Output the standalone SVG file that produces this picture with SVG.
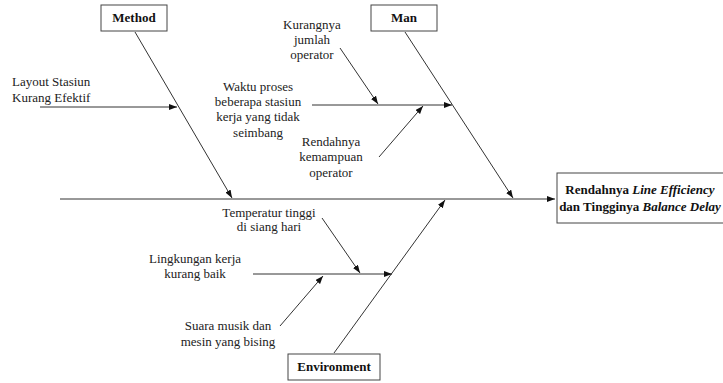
<svg xmlns="http://www.w3.org/2000/svg" width="723" height="383" viewBox="0 0 723 383">
<defs>
<marker id="ah" markerUnits="userSpaceOnUse" markerWidth="9" markerHeight="7" refX="8" refY="3" orient="auto">
<path d="M0,0 L8,3 L0,6 z" fill="#111"/>
</marker>
<style>
.ln{stroke:#333;stroke-width:1;fill:none;marker-end:url(#ah)}
.pl{stroke:#333;stroke-width:1;fill:none}
.bx{fill:#fff;stroke:#444;stroke-width:1}
.t{font-family:"Liberation Serif","Times New Roman",serif;font-size:13px;fill:#222;text-anchor:middle}
.tl{font-family:"Liberation Serif","Times New Roman",serif;font-size:13px;fill:#222}
.b{font-family:"Liberation Serif","Times New Roman",serif;font-size:13px;font-weight:bold;fill:#111;text-anchor:middle}
</style>
</defs>
<rect width="723" height="383" fill="#fff"/>
<g id="connectors">
<line class="ln" x1="60" y1="199" x2="555" y2="199"/>
<line class="ln" x1="135" y1="32" x2="232" y2="198"/>
<line class="ln" x1="405" y1="32" x2="513" y2="198"/>
<line class="ln" x1="334" y1="353" x2="445" y2="200"/>
<line class="ln" x1="40" y1="107" x2="177" y2="107"/>
<line class="ln" x1="312" y1="105" x2="452" y2="105"/>
<line class="ln" x1="340" y1="48" x2="378" y2="104"/>
<line class="ln" x1="379" y1="157" x2="423" y2="106"/>
<line class="ln" x1="253" y1="274" x2="392" y2="274"/>
<line class="ln" x1="322" y1="218" x2="360" y2="273"/>
<line class="ln" x1="280" y1="326" x2="323" y2="276"/>
</g>
<g id="method">
<rect class="bx" x="101" y="5" width="66" height="26"/>
<text class="b" x="134" y="22">Method</text>
</g>
<g id="man">
<rect class="bx" x="371" y="5" width="66" height="26"/>
<text class="b" x="404" y="22">Man</text>
</g>
<g id="environment">
<rect class="bx" x="288" y="354" width="92" height="26"/>
<text class="b" x="334" y="371">Environment</text>
</g>
<g id="effect">
<rect class="bx" x="557" y="173" width="180" height="50"/>
<text class="b" x="640" y="194">Rendahnya <tspan font-style="italic">Line Efficiency</tspan></text>
<text class="b" x="640" y="211">dan Tingginya <tspan font-style="italic">Balance Delay</tspan></text>
</g>
<g id="layout">
<text class="tl" x="12" y="86">Layout Stasiun</text>
<text class="tl" x="12" y="102">Kurang Efektif</text>
</g>
<g id="kurangnya">
<text class="t" x="312" y="29">Kurangnya</text>
<text class="t" x="312" y="44">jumlah</text>
<text class="t" x="312" y="59">operator</text>
</g>
<g id="waktu">
<text class="t" x="258" y="91">Waktu proses</text>
<text class="t" x="258" y="106">beberapa stasiun</text>
<text class="t" x="258" y="121">kerja yang tidak</text>
<text class="t" x="258" y="137">seimbang</text>
</g>
<g id="rendahnya">
<text class="t" x="331" y="146">Rendahnya</text>
<text class="t" x="331" y="161">kemampuan</text>
<text class="t" x="331" y="177">operator</text>
</g>
<g id="temperatur">
<text class="t" x="269" y="217">Temperatur tinggi</text>
<text class="t" x="269" y="231">di siang hari</text>
</g>
<g id="lingkungan">
<text class="t" x="195" y="263">Lingkungan kerja</text>
<text class="t" x="195" y="278">kurang baik</text>
</g>
<g id="suara">
<text class="t" x="228" y="330">Suara musik dan</text>
<text class="t" x="228" y="346">mesin yang bising</text>
</g>
</svg>
